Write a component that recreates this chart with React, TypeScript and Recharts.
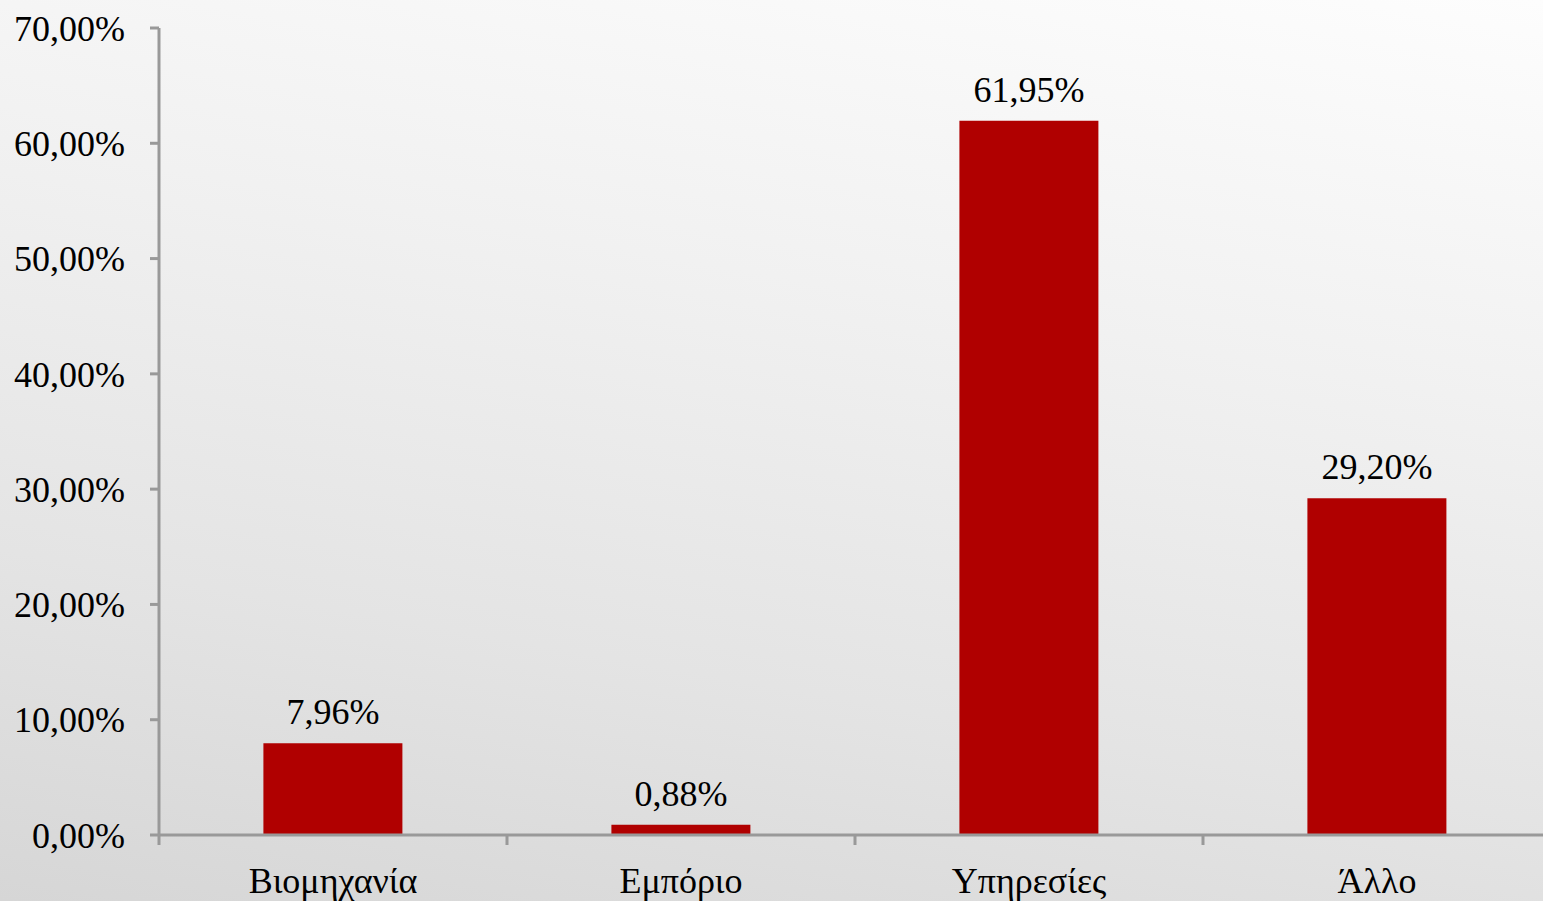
import React from 'react';
import { BarChart, Bar, XAxis, YAxis, LabelList } from 'recharts';

const categories = ['Βιομηχανία', 'Εμπόριο', 'Υπηρεσίες', 'Άλλο'];
const shares = [7.96, 0.88, 61.95, 29.2];
const yTicks = [0, 10, 20, 30, 40, 50, 60, 70];

const data = categories.map((name, i) => ({ name, value: shares[i] }));

const FONT = '"Liberation Serif", "Times New Roman", serif';
const AXIS = '#999999';
const pct = (v: number) => `${v.toFixed(2).replace('.', ',')}%`;

// category tick: tick mark on the left band edge, label at band centre
const CategoryTick = (props: any) => {
  const { x, y, payload } = props;
  const off = payload && payload.offset != null ? payload.offset : 174;
  return (
    <g>
      <line x1={x - off} x2={x - off} y1={y - 8} y2={y + 2} stroke={AXIS} strokeWidth={3} />
      <text x={x} y={y + 50} textAnchor="middle" fontSize={36} fontFamily={FONT} fill="#000">
        {payload.value}
      </text>
    </g>
  );
};

export default function App() {
  return (
    <div
      style={{
        position: 'absolute',
        left: 0,
        top: 0,
        width: 1543,
        height: 901,
        overflow: 'hidden',
        background: 'linear-gradient(190deg, #fdfdfd 0%, #f1f1f1 35%, #e4e4e4 70%, #d6d6d6 100%)',
      }}
    >
      <BarChart
        width={1560}
        height={901}
        data={data}
        margin={{ top: 28, right: 9, bottom: 0, left: 0 }}
        barCategoryGap="30%"
      >
        <XAxis
          dataKey="name"
          height={66}
          axisLine={{ stroke: AXIS, strokeWidth: 3 }}
          tickLine={false}
          tick={<CategoryTick />}
          interval={0}
        />
        <YAxis
          width={159}
          domain={[0, 70]}
          ticks={yTicks}
          tickFormatter={pct}
          axisLine={{ stroke: AXIS, strokeWidth: 3 }}
          tickLine={{ stroke: AXIS, strokeWidth: 3 }}
          tickSize={9}
          tickMargin={25}
          tick={{ fontSize: 36, fontFamily: FONT, fill: '#000' }}
          interval={0}
        />
        <Bar dataKey="value" fill="#b00000" isAnimationActive={false}>
          <LabelList
            dataKey="value"
            position="top"
            offset={19}
            formatter={(v: any) => pct(Number(v))}
            style={{ fontSize: 36, fontFamily: FONT, fill: '#000' }}
          />
        </Bar>
      </BarChart>
    </div>
  );
}
